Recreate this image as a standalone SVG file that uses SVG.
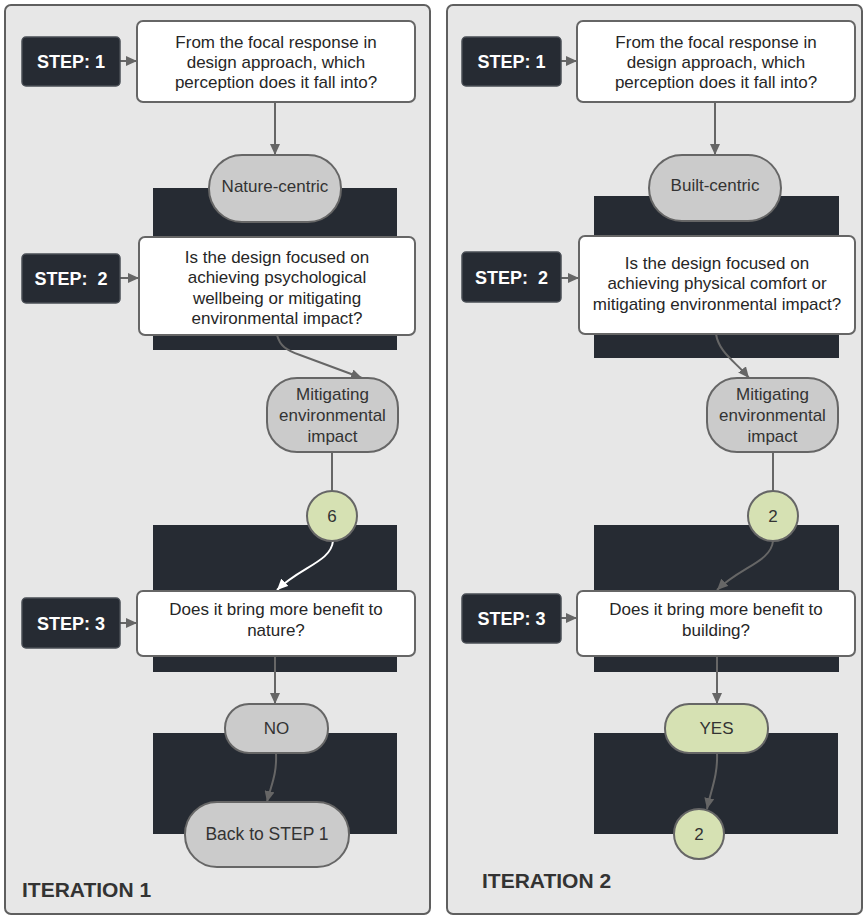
<svg xmlns="http://www.w3.org/2000/svg" width="867" height="916" viewBox="0 0 867 916">
<style>
.panel{fill:#e7e7e7;stroke:#5f5f5f;stroke-width:2}
.dark{fill:#262b33}
.step{fill:#262b33;stroke:#4a4f56;stroke-width:1.5}
.steptxt{font-family:"Liberation Sans",Arial,sans-serif;font-weight:bold;font-size:18px;fill:#ffffff;text-anchor:middle}
.box{fill:#ffffff;stroke:#666666;stroke-width:2}
.pill{fill:#cbcbcb;stroke:#666666;stroke-width:2}
.green{fill:#d6e1b3;stroke:#666666;stroke-width:2}
.t{font-family:"Liberation Sans",Arial,sans-serif;font-size:17px;fill:#262626;text-anchor:middle}
.tp{font-family:"Liberation Sans",Arial,sans-serif;font-size:17px;fill:#333333;text-anchor:middle}
.iter{font-family:"Liberation Sans",Arial,sans-serif;font-weight:bold;font-size:21px;fill:#333333}
.con{fill:none;stroke:#666666;stroke-width:2}
.conw{fill:none;stroke:#ffffff;stroke-width:2}
</style>
<defs>
<marker id="ah" markerUnits="userSpaceOnUse" markerWidth="12" markerHeight="10" refX="11" refY="5" orient="auto"><path d="M0,0 L11,5 L0,10 z" fill="#666666"/></marker>
<marker id="ahw" markerUnits="userSpaceOnUse" markerWidth="12" markerHeight="10" refX="11" refY="5" orient="auto"><path d="M0,0 L11,5 L0,10 z" fill="#ffffff"/></marker>
</defs>

<g id="panels">
<rect class="panel" x="5" y="5" width="425" height="909" rx="6"/>
<rect class="panel" x="447" y="5" width="415" height="909" rx="6"/>
</g>

<g id="backdrops">
<rect class="dark" x="153" y="188" width="244" height="162"/>
<rect class="dark" x="153" y="525" width="244" height="147"/>
<rect class="dark" x="153" y="733" width="244" height="101"/>
<rect class="dark" x="594" y="196" width="245" height="162"/>
<rect class="dark" x="594" y="525" width="245" height="147"/>
<rect class="dark" x="594" y="733" width="244" height="101"/>
</g>

<g id="connectors">
<line class="con" x1="120" y1="61" x2="137" y2="61" marker-end="url(#ah)"/>
<line class="con" x1="120" y1="278" x2="139" y2="278" marker-end="url(#ah)"/>
<line class="con" x1="120" y1="623" x2="137" y2="623" marker-end="url(#ah)"/>
<line class="con" x1="275" y1="102" x2="275" y2="155" marker-end="url(#ah)"/>
<path class="con" d="M277,335 C280,346 286,350 300,355 L362,378" marker-end="url(#ah)"/>
<line class="con" x1="332" y1="452" x2="332" y2="491"/>
<path class="conw" d="M333,541 C331,562 300,567 277,590" marker-end="url(#ahw)"/>
<line class="con" x1="275" y1="656" x2="275" y2="704" marker-end="url(#ah)"/>
<path class="con" d="M276,753 C277,775 271,785 267,802" marker-end="url(#ah)"/>

<line class="con" x1="561" y1="61" x2="577" y2="61" marker-end="url(#ah)"/>
<line class="con" x1="561" y1="278" x2="579" y2="278" marker-end="url(#ah)"/>
<line class="con" x1="561" y1="618" x2="577" y2="618" marker-end="url(#ah)"/>
<line class="con" x1="715" y1="102" x2="715" y2="155" marker-end="url(#ah)"/>
<path class="con" d="M716,334 C719,353 736,362 749,378" marker-end="url(#ah)"/>
<line class="con" x1="773" y1="452" x2="773" y2="491"/>
<path class="con" d="M773,541 C771,562 740,567 717,590" marker-end="url(#ah)"/>
<line class="con" x1="717" y1="656" x2="717" y2="704" marker-end="url(#ah)"/>
<path class="con" d="M717,753 C718,775 711,790 707,809" marker-end="url(#ah)"/>
</g>

<g id="iter1-step1-label"><rect class="step" x="22" y="37" width="98" height="49" rx="4"/><text class="steptxt" x="71" y="67.5">STEP: 1</text></g>
<g id="iter1-q1"><rect class="box" x="137" y="21" width="278" height="81" rx="6"/>
<text class="t" x="276" y="47.5">From the focal response in</text>
<text class="t" x="276" y="67.5">design approach, which</text>
<text class="t" x="276" y="87.5">perception does it fall into?</text></g>
<g id="iter1-nature"><rect class="pill" x="209" y="155" width="132" height="67" rx="33"/><text class="tp" x="275" y="192">Nature-centric</text></g>
<g id="iter1-step2-label"><rect class="step" x="22" y="254" width="98" height="49" rx="4"/><text class="steptxt" x="71" y="284.5" xml:space="preserve">STEP:  2</text></g>
<g id="iter1-q2"><rect class="box" x="139" y="237" width="276" height="98" rx="6"/>
<text class="t" x="277" y="262.5">Is the design focused on</text>
<text class="t" x="277" y="283">achieving psychological</text>
<text class="t" x="277" y="303.5">wellbeing or mitigating</text>
<text class="t" x="277" y="324">environmental impact?</text></g>
<g id="iter1-mitigating"><rect class="pill" x="267" y="378" width="131" height="74" rx="30"/>
<text class="tp" x="332.5" y="399.5">Mitigating</text>
<text class="tp" x="332.5" y="420.5">environmental</text>
<text class="tp" x="332.5" y="441.5">impact</text></g>
<g id="iter1-count"><circle class="green" cx="332" cy="516" r="25"/><text class="tp" x="332" y="522">6</text></g>
<g id="iter1-step3-label"><rect class="step" x="22" y="598" width="98" height="50" rx="4"/><text class="steptxt" x="71" y="629.5">STEP: 3</text></g>
<g id="iter1-q3"><rect class="box" x="137" y="591" width="278" height="65" rx="6"/>
<text class="t" x="276" y="614.5">Does it bring more benefit to</text>
<text class="t" x="276" y="635.5">nature?</text></g>
<g id="iter1-no"><rect class="pill" x="225" y="704" width="103" height="49" rx="24"/><text class="tp" x="276.5" y="733.5">NO</text></g>
<g id="iter1-back"><rect class="pill" x="185" y="802" width="164" height="65" rx="32"/><text class="tp" x="267" y="839.5" style="font-size:17.5px">Back to STEP 1</text></g>
<g id="iter1-title"><text class="iter" x="22" y="897">ITERATION 1</text></g>

<g id="iter2-step1-label"><rect class="step" x="462" y="37" width="99" height="49" rx="4"/><text class="steptxt" x="511.5" y="67.5">STEP: 1</text></g>
<g id="iter2-q1"><rect class="box" x="577" y="21" width="278" height="81" rx="6"/>
<text class="t" x="716" y="47.5">From the focal response in</text>
<text class="t" x="716" y="67.5">design approach, which</text>
<text class="t" x="716" y="87.5">perception does it fall into?</text></g>
<g id="iter2-built"><rect class="pill" x="649" y="155" width="132" height="66" rx="33"/><text class="tp" x="715" y="191">Built-centric</text></g>
<g id="iter2-step2-label"><rect class="step" x="462" y="252" width="99" height="50" rx="4"/><text class="steptxt" x="511.5" y="283.5" xml:space="preserve">STEP:  2</text></g>
<g id="iter2-q2"><rect class="box" x="579" y="236" width="276" height="98" rx="6"/>
<text class="t" x="717" y="268.5">Is the design focused on</text>
<text class="t" x="717" y="289">achieving physical comfort or</text>
<text class="t" x="717" y="309.5">mitigating environmental impact?</text></g>
<g id="iter2-mitigating"><rect class="pill" x="707" y="378" width="131" height="74" rx="30"/>
<text class="tp" x="772.5" y="399.5">Mitigating</text>
<text class="tp" x="772.5" y="420.5">environmental</text>
<text class="tp" x="772.5" y="441.5">impact</text></g>
<g id="iter2-count"><circle class="green" cx="773" cy="516" r="25"/><text class="tp" x="773" y="522">2</text></g>
<g id="iter2-step3-label"><rect class="step" x="462" y="594" width="99" height="49" rx="4"/><text class="steptxt" x="511.5" y="624.5">STEP: 3</text></g>
<g id="iter2-q3"><rect class="box" x="577" y="591" width="278" height="65" rx="6"/>
<text class="t" x="716" y="614.5">Does it bring more benefit to</text>
<text class="t" x="716" y="635.5">building?</text></g>
<g id="iter2-yes"><rect class="green" x="665" y="704" width="103" height="49" rx="24"/><text class="tp" x="716.5" y="733.5">YES</text></g>
<g id="iter2-end"><circle class="green" cx="699" cy="834" r="25"/><text class="tp" x="699" y="840">2</text></g>
<g id="iter2-title"><text class="iter" x="482" y="888">ITERATION 2</text></g>
</svg>
